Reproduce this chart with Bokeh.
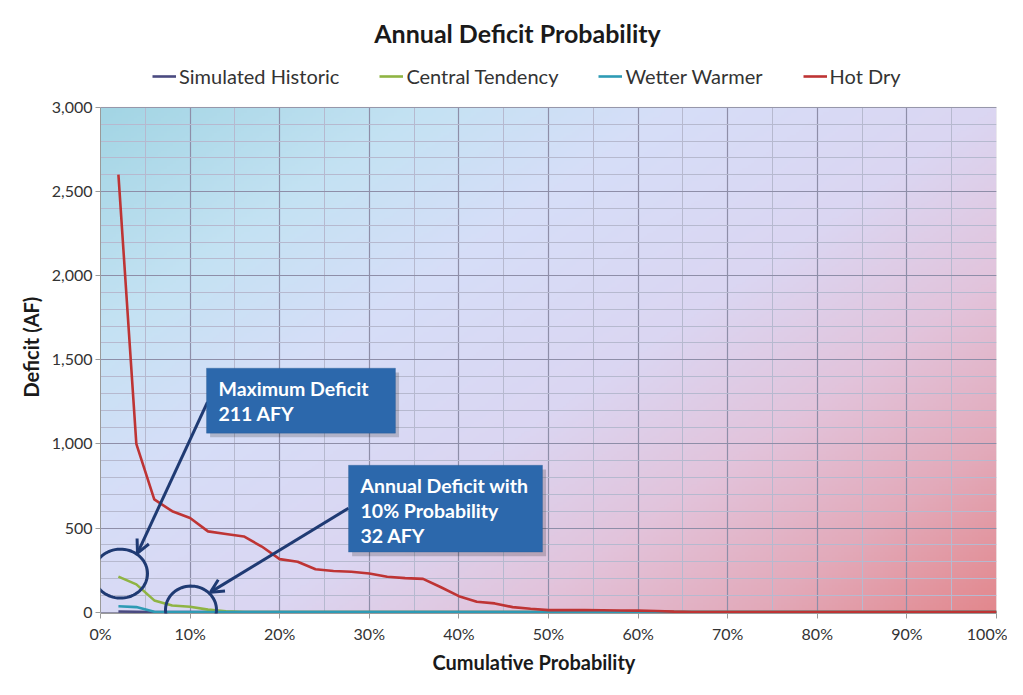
import numpy as np
from bokeh.plotting import figure
from bokeh.models import (Range1d, SingleIntervalTicker, NumeralTickFormatter, Legend, LegendItem,
                          Label, BoxAnnotation, Arrow, OpenHead, PolyAnnotation, Title)
from bokeh.embed import file_html
from bokeh.resources import INLINE

# ---------------- data ----------------
probability = [0.02, 0.04, 0.06, 0.08, 0.10, 0.12, 0.14, 0.16, 0.18, 0.20,
               0.22, 0.24, 0.26, 0.28, 0.30, 0.32, 0.34, 0.36, 0.38, 0.40,
               0.42, 0.44, 0.46, 0.48, 0.50, 0.52, 0.54, 0.56, 0.58, 0.60,
               0.62, 0.64, 0.66, 0.68, 0.70, 0.72, 0.74, 0.76, 0.78, 0.80,
               0.82, 0.84, 0.86, 0.88, 0.90, 0.92, 0.94, 0.96, 0.98, 1.00]

simulated_historic = [4, 2, 0, 0, 0, 0, 0, 0, 0, 0,
                      0, 0, 0, 0, 0, 0, 0, 0, 0, 0,
                      0, 0, 0, 0, 0, 0, 0, 0, 0, 0,
                      0, 0, 0, 0, 0, 0, 0, 0, 0, 0,
                      0, 0, 0, 0, 0, 0, 0, 0, 0, 0]

central_tendency = [211, 165, 70, 40, 32, 15, 5, 1, 0, 0,
                    0, 0, 0, 0, 0, 0, 0, 0, 0, 0,
                    0, 0, 0, 0, 0, 0, 0, 0, 0, 0,
                    0, 0, 0, 0, 0, 0, 0, 0, 0, 0,
                    0, 0, 0, 0, 0, 0, 0, 0, 0, 0]

wetter_warmer = [35, 30, 2, 0, 0, 0, 0, 0, 0, 0,
                 0, 0, 0, 0, 0, 0, 0, 0, 0, 0,
                 0, 0, 0, 0, 0, 0, 0, 0, 0, 0,
                 0, 0, 0, 0, 0, 0, 0, 0, 0, 0,
                 0, 0, 0, 0, 0, 0, 0, 0, 0, 0]

hot_dry = [2600, 1000, 670, 600, 560, 480, 465, 450, 390, 315,
           300, 255, 245, 240, 230, 210, 202, 198, 148, 95,
           62, 52, 30, 20, 12, 12, 12, 11, 10, 9,
           7, 3, 1, 0, 0, 0, 0, 0, 0, 0,
           0, 0, 0, 0, 0, 0, 0, 0, 0, 0]

series_names = ["Simulated Historic", "Central Tendency", "Wetter Warmer", "Hot Dry"]
series_values = [simulated_historic, central_tendency, wetter_warmer, hot_dry]
series_colors = ["#4a4a80", "#8fb443", "#2e9bb5", "#be3434"]

title_text = "Annual Deficit Probability"
x_title = "Cumulative Probability"
y_title = "Deficit (AF)"
box1_lines = ["Maximum Deficit", "211 AFY"]
box2_lines = ["Annual Deficit with", "10% Probability", "32 AFY"]

Y_MIN, Y_MAX = 0, 3000
FONT = "Lato"
NAVY = "#1f3a73"

# ---------------- figure ----------------
# the frame extends above the data area so that title & legend sit inside it
p = figure(width=1007, height=679, output_backend="svg", toolbar_location=None,
           x_range=Range1d(0, 1), y_range=Range1d(-8, 3576),
           min_border_left=100, min_border_right=11, min_border_top=10, min_border_bottom=66)
p.background_fill_color = "white"
p.border_fill_color = "white"
p.outline_line_color = None

# gradient plot-area background (style only)
H, W = 200, 300
yy, xx = np.mgrid[0:H, 0:W]
xf = (xx + 0.5) / W
yf = (yy + 0.5) / H
t = 0.55 * xf + 0.45 * (1 - yf)
st = [0.0, 0.2, 0.35, 0.55, 0.7, 0.85, 1.0]
sc = [(162, 213, 228), (196, 226, 243), (214, 222, 248), (219, 214, 242),
      (226, 196, 220), (226, 170, 186), (226, 135, 140)]
img = np.empty((H, W), dtype=np.uint32)
view = img.view(dtype=np.uint8).reshape((H, W, 4))
for k in range(3):
    view[..., k] = np.interp(t, st, [c[k] for c in sc]).astype(np.uint8)
view[..., 3] = 255
p.image_rgba(image=[img], x=0, y=-8, dw=1, dh=Y_MAX + 8, level="image")

# axes & grid
p.xaxis.ticker = SingleIntervalTicker(interval=0.1, num_minor_ticks=2)
p.yaxis.ticker = SingleIntervalTicker(interval=500, num_minor_ticks=5)
p.xaxis.formatter = NumeralTickFormatter(format="0%")
p.yaxis.formatter = NumeralTickFormatter(format="0,0")
p.yaxis.bounds = (Y_MIN, Y_MAX)
for ax in (p.xaxis, p.yaxis):
    ax.axis_line_color = "#9a9a9a"
    ax.major_tick_line_color = "#9a9a9a"
    ax.major_tick_out = 5
    ax.major_tick_in = 0
    ax.minor_tick_line_color = None
    ax.major_label_text_font = FONT
    ax.major_label_text_font_size = "16px"
    ax.major_label_text_color = "#333333"
p.xaxis.major_label_standoff = 5
p.yaxis.major_label_standoff = 3

# axis titles (as side titles so they can be placed on the data area)
p.add_layout(Title(text=y_title, align="left", offset=216, standoff=12,
                   text_font=FONT, text_font_size="20px", text_font_style="bold",
                   text_color="#1a1a1a"), "left")
p.add_layout(Title(text=x_title, align="left", offset=332, standoff=5,
                   text_font=FONT, text_font_size="20px", text_font_style="bold",
                   text_color="#1a1a1a"), "below")

for g in (p.xgrid, p.ygrid):
    g.grid_line_color = "#8e8ea8"
    g.grid_line_width = 1.2
    g.minor_grid_line_color = "#b6b9cf"
    g.minor_grid_line_width = 1
p.ygrid.bounds = (Y_MIN, Y_MAX)
p.xgrid.cross_bounds = (Y_MIN, Y_MAX)

# plot-area border
p.add_layout(BoxAnnotation(left=0, right=1, bottom=-8, top=Y_MAX, fill_alpha=0,
                           line_color="#b0b0b0", line_width=1, level="underlay"))

# series
renderers = []
for name, vals, col in zip(series_names, series_values, series_colors):
    r = p.line(probability, vals, line_color=col, line_width=2.6)
    renderers.append(r)

legend = Legend(items=[LegendItem(label=n, renderers=[r]) for n, r in zip(series_names, renderers)],
                orientation="horizontal", location=(52, 525), padding=0, margin=0,
                spacing=40, glyph_width=24, label_standoff=3,
                background_fill_alpha=0, border_line_color=None,
                label_text_font=FONT, label_text_font_size="20px", label_text_color="#333333")
p.add_layout(legend, "center")

# title
p.add_layout(Label(x=0.4654, y=3440, text=title_text, text_align="center", text_baseline="middle",
                   text_font=FONT, text_font_size="25px", text_font_style="bold", text_color="#1a1a1a"))

# circles (annotation shapes)
def ellipse_pts(cx, cy, w, h, n=72):
    a = np.linspace(0, 2 * np.pi, n)
    return list(cx + w / 2 * np.cos(a)), list(cy + h / 2 * np.sin(a))

for cx, cy, w, h in [(0.0223, 229, 0.0603, 291), (0.101, 14, 0.0569, 282)]:
    xs, ys = ellipse_pts(cx, cy, w, h)
    p.add_layout(PolyAnnotation(xs=xs, ys=ys, fill_alpha=0, line_color=NAVY, line_alpha=1, line_width=3))

# arrows
for xs_, ys_, xe, ye in [(0.1194, 1248, 0.0413, 351), (0.2768, 618, 0.1228, 119)]:
    p.add_layout(Arrow(x_start=xs_, y_start=ys_, x_end=xe, y_end=ye, line_color=NAVY, line_width=3,
                       end=OpenHead(size=13, line_color=NAVY, line_width=3)))

# callout boxes
for l, r_, tp, bt in [(0.1183, 0.3292, 1450, 1064), (0.2768, 0.4933, 873, 357)]:
    p.add_layout(BoxAnnotation(left=l + 0.004, right=r_ + 0.004, top=tp - 25, bottom=bt - 25,
                               fill_color="#000000", fill_alpha=0.18, line_alpha=0))
    p.add_layout(BoxAnnotation(left=l, right=r_, top=tp, bottom=bt,
                               fill_color="#2c68ac", fill_alpha=1, line_color="#24578f", line_width=1))

for i, txt in enumerate(box1_lines):
    p.add_layout(Label(x=0.1317, y=1332 - i * 149, text=txt, text_baseline="middle",
                       text_font=FONT, text_font_size="19.5px", text_font_style="bold", text_color="white"))
for i, txt in enumerate(box2_lines):
    p.add_layout(Label(x=0.2902, y=755 - i * 151, text=txt, text_baseline="middle",
                       text_font=FONT, text_font_size="19.5px", text_font_style="bold", text_color="white"))

open("out.html", "w").write(file_html(p, INLINE))
